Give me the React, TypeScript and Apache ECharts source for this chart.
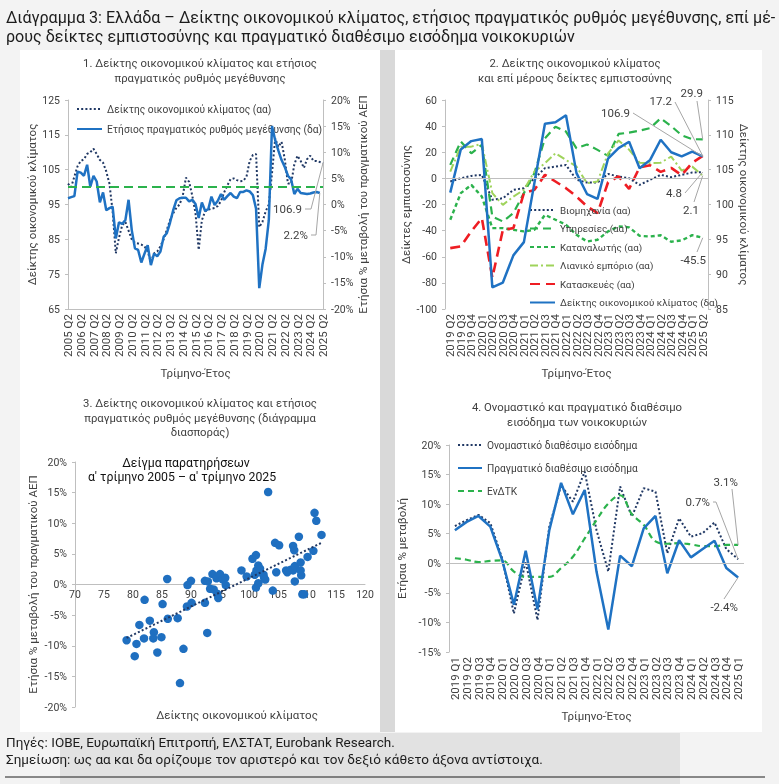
import React, { useEffect, useRef } from "react";
import * as echarts from "echarts";

const FONT = "Roboto, 'Noto Sans', sans-serif";
const TXT = "#404040";
const AXIS = "#bfbfbf";
const NAVY = "#203864";
const BLUE = "#1f72c3";
const GREEN = "#2bb24c";
const LGREEN = "#9fd35b";
const RED = "#ee1d23";
const LEADER = "#a6a6a6";

function quarters(startYear: number, startQ: number, count: number): string[] {
  const out: string[] = [];
  let y = startYear;
  let q = startQ;
  for (let i = 0; i < count; i++) {
    out.push(`${y} Q${q}`);
    q++;
    if (q > 4) { q = 1; y++; }
  }
  return out;
}

// ---------- Panel 1 ----------
const p1Quarters = quarters(2005, 2, 81);
const p1Esi = [
  101, 100, 103, 106, 107.5, 108, 109.5, 110, 111, 109.5,
  107.8, 107, 104.5, 101, 93, 81, 85.5, 89, 90, 87.5,
  85, 84, 83.8, 83.5, 83, 81.5, 78.5, 81, 81.5, 83,
  85, 87.7, 90.5, 92.5, 94, 95, 97.5, 102.7, 101.5, 97.5,
  92.5, 82, 90.5, 93, 93.5, 93.8, 94, 94.6, 96, 98.5,
  100.5, 102.3, 102.5, 102, 101.7, 101.8, 103, 107.5, 109.2, 109.5,
  88.5, 90, 93, 95, 104, 114, 111.5, 113, 108, 101,
  101, 106.5, 109, 107.5, 105.5, 108, 109, 107.5, 107.5, 107.2, 106.9,
];
const p1Gdp = [
  1.2, 1.4, 1.6, 6.3, 6.1, 5.5, 7.6, 3.4, 5.5, 4.4,
  0.4, 2.3, -1.1, -0.7, -0.4, -6.5, -3.4, -3.7, -3.0, 0.9,
  -4.9, -8.4, -8.7, -11.1, -9.4, -7.8, -11.6, -9.4, -9.9, -9.0,
  -6.2, -5.5, -3.5, -1.1, 0.8, 1.2, 1.3, 1.3, 0.6, 0.9,
  0.1, -2.6, 0.4, -1.2, -0.9, 1.5, -0.1, 0.7, 2.0, 0.9,
  1.6, 2.2, 1.5, 1.2, 2.4, 2.4, 2.7, 2.5, 1.8, -0.8,
  -16.0, -11.5, -8.5, -3.0, 15.0, 12.3, 10.3, 8.5, 7.2, 5.5,
  4.8, 2.0, 3.0, 2.2, 2.1, 2.0, 2.1, 2.3, 2.4, 2.2,
];
const p1Average = 100;

// ---------- Panel 2 ----------
const p2Quarters = quarters(2019, 2, 25);
const p2Industry = [-2.4, 0.1, 1.9, 2.7, -16.4, -15.2, -8.8, -7.5, 0, 7.8, 9, 10.3, -1.1, -3.2, -3.2, 3.4, 1.4, 0.1, -5, -1.1, 2.7, 0.9, 2.7, 4.5, 4.8];
const p2Services = [10.3, 28.2, 19.2, 25.6, -29.2, -33, -26.6, -11.3, 4, 30.7, 39.6, 35.8, 23, 26, 21.8, 17.2, 34, 35, 36.5, 38.5, 46, 40, 33, 30, 29.9];
const p2Consumer = [-31.7, -11.3, -5, -13.9, -38.1, -38.1, -39.4, -40.6, -39.4, -27.9, -31.7, -35.5, -43.2, -48.3, -47, -40.6, -36.8, -37.5, -44, -44.5, -43.5, -48.5, -47.5, -43.5, -45.5];
const p2Retail = [5.2, 24.3, 24.3, 26.4, -11.3, -20.3, -13.9, -8.8, 5.2, 11.6, 19.2, 14.1, 9, -3.7, -2.4, 19.2, 29, 22, 12, 11.6, 12, 16.7, 6, 9, 2.1];
const p2Construction = [-53.4, -52.1, -40.6, -30.4, -76, -39.4, -38.1, -11.3, -8.8, 2.7, -2.4, -7.5, -13.9, -21.5, -26.6, -3, 1.5, -8, 8.5, 10, 5, 8, 2.5, 12, 17.2];
const p2Esi = [101.7, 107.9, 109.1, 109.4, 88.1, 88.8, 92.7, 94.6, 103.1, 111.6, 111.8, 112.8, 104.5, 101.5, 100.8, 106.6, 108.1, 109, 105.2, 106.4, 109.3, 107.5, 106.9, 107.6, 106.9];

// ---------- Panel 3 ----------
const p3Esi = [
  78.9, 80.6, 80.3, 81.1, 81.9, 82.0, 82.9, 83.6, 83.5, 84.2,
  84.9, 85.1, 85.9, 86.0, 87.7, 88.1, 88.7, 89.3, 89.4, 90.0,
  90.1, 92.4, 92.4, 92.8, 92.9, 93.3, 93.7, 93.9, 94.4, 94.5,
  94.7, 95.0, 95.5, 95.9, 96.0, 98.7, 99.6, 100.6, 101.0, 101.2,
  101.3, 101.6, 101.8, 101.2, 101.6, 101.9, 102.5, 102.6, 102.8, 103.3,
  104.1, 104.5, 105.2, 104.7, 106.4, 106.6, 107.2, 107.6, 107.8, 107.6,
  107.9, 107.9, 108.6, 108.9, 108.9, 109.0, 109.2, 109.5, 110.1, 111.1,
  111.3, 111.6, 112.5,
];
const p3Gdp = [
  -9.1, -9.7, -11.7, -6.6, -8.8, -2.5, -5.9, -7.8, -8.8, -11.1,
  -8.6, -3.2, 0.9, -5.6, -5.5, -16.1, -10.5, -3.6, -0.1, 0.6,
  -3.0, 0.6, -3.0, -7.9, 0.5, -0.7, 1.7, -0.8, 1.0, -1.5,
  -2.2, 1.7, 0.8, 1.1, -0.1, 2.3, 1.3, 4.2, 1.6, 4.8,
  2.3, 3.1, 2.0, -0.5, 0.2, 2.6, 1.6, 1.1, 0.8, 15.1,
  -1.0, 6.8, 6.4, 2.0, 2.3, 2.0, 2.4, 6.3, 5.6, 2.3,
  0.5, 3.0, 7.8, 3.6, 2.3, 1.5, -1.6, -1.6, 4.5, 5.5,
  11.7, 10.4, 8.1,
];
const p3YMin = -20;
const p3YMax = 20;

// ---------- Panel 4 ----------
const p4Quarters = quarters(2019, 1, 25);
const p4Nominal = [6.3, 7.3, 8.2, 6.8, 0.85, -8.5, 0.3, -9.6, 6.2, 13.2, 10.4, 15.5, 5.6, -1.4, 13.0, 7.9, 12.7, 12.1, 1.7, 7.6, 4.5, 5.1, 6.9, 2.4, 0.7];
const p4Real = [5.6, 7.0, 8.0, 6.2, 0.6, -7.0, 2.1, -7.8, 5.6, 13.6, 8.3, 12.4, -1.4, -11.2, 1.3, -0.5, 5.9, 8.0, -1.7, 3.9, 1.0, 2.4, 3.8, -0.8, -2.4];
const p4Hicp = [0.85, 0.6, 0.2, 0.4, 0.5, -1.4, -2.3, -2.3, -2.3, -0.8, 1.1, 4.2, 7.3, 10.1, 11.5, 8.3, 6.5, 3.7, 3.3, 3.4, 3.2, 2.9, 2.9, 3.1, 3.1];

// names
const N1a = "Δείκτης οικονομικού κλίματος (αα)";
const N1b = "Ετήσιος πραγματικός ρυθμός μεγέθυνσης (δα)";
const N2 = ["Βιομηχανία (αα)", "Υπηρεσίες (αα)", "Καταναλωτής (αα)", "Λιανικό εμπόριο (αα)", "Κατασκευές (αα)", "Δείκτης οικονομικού κλίματος (δα)"];
const N4 = ["Ονομαστικό διαθέσιμο εισόδημα", "Πραγματικό διαθέσιμο εισόδημα", "ΕνΔΤΚ"];

const last = (a: number[]) => a[a.length - 1];
const pct = (v: number) => `${v}%`;

function trendLine(xs: number[], ys: number[]): number[][] {
  const n = Math.min(xs.length, ys.length);
  let mx = 0, my = 0;
  for (let i = 0; i < n; i++) { mx += xs[i]; my += ys[i]; }
  mx /= n; my /= n;
  let sxy = 0, sxx = 0;
  for (let i = 0; i < n; i++) { sxy += (xs[i] - mx) * (ys[i] - my); sxx += (xs[i] - mx) ** 2; }
  const b = sxy / sxx;
  const x0 = Math.min(...xs), x1 = Math.max(...xs);
  return [[x0, my + b * (x0 - mx)], [x1, my + b * (x1 - mx)]];
}

// grid geometry
const G3 = { left: 75, top: 462, width: 290, height: 245 };
// offset that moves panel 3's x axis from the grid bottom up to the y = 0 level
const p3AxisOffset = -G3.height * (0 - p3YMin) / (p3YMax - p3YMin);

const axisLbl = { color: TXT, fontSize: 10.5, fontFamily: FONT };
const xLbl = { color: TXT, fontSize: 11.5, fontFamily: FONT, rotate: 90, margin: 5 };
const nameStyle = { color: TXT, fontSize: 11.5, fontFamily: FONT };
const legendText = { color: TXT, fontSize: 10.2, fontFamily: FONT };
const yBase = {
  type: "value" as const,
  axisLine: { show: true, lineStyle: { color: AXIS } },
  axisTick: { show: true, length: 3, lineStyle: { color: AXIS } },
  splitLine: { show: false },
  nameLocation: "middle" as const,
  nameTextStyle: nameStyle,
};
const xCatBase = {
  type: "category" as const,
  axisTick: { show: false },
  splitLine: { show: false },
  nameLocation: "middle" as const,
  nameTextStyle: nameStyle,
};
const zeroLine = {
  silent: true,
  symbol: "none",
  label: { show: false },
  lineStyle: { color: "#bfbfbf", type: "solid", width: 1 },
  data: [{ yAxis: 0 }],
};

function txt(text: string, x: number, y: number, size: number, align: string, color = TXT, weight: any = "normal") {
  return {
    type: "text", x, y, z: 10,
    style: { text, fill: color, fontSize: size, fontFamily: FONT, fontWeight: weight, align, textAlign: align, verticalAlign: "middle", textVerticalAlign: "middle" },
  };
}

const PT = 11.3;
const baseGraphic: any[] = [
  { type: "rect", shape: { x: 0, y: 0, width: 779, height: 784 }, style: { fill: "#f3f3f3" }, z: -10 },
  { type: "rect", shape: { x: 60, y: 733, width: 620, height: 51 }, style: { fill: "#e2e2e2" }, z: -9 },
  { type: "rect", shape: { x: 20, y: 50, width: 360, height: 682 }, style: { fill: "#ffffff" }, z: -8 },
  { type: "rect", shape: { x: 395, y: 50, width: 367, height: 682 }, style: { fill: "#ffffff" }, z: -8 },
  { type: "rect", shape: { x: 380, y: 50, width: 15, height: 682 }, style: { fill: "#d9d9d9" }, z: -8 },
  txt("Διάγραμμα 3: Ελλάδα – Δείκτης οικονομικού κλίματος, ετήσιος πραγματικός ρυθμός μεγέθυνσης, επί μέ-", 6, 17, 16.1, "left", "#1c1c1c"),
  txt("ρους δείκτες εμπιστοσύνης και πραγματικό διαθέσιμο εισόδημα νοικοκυριών", 6, 36, 16.1, "left", "#1c1c1c"),
  txt("1. Δείκτης οικονομικού κλίματος και ετήσιος", 200, 63, PT, "center"),
  txt("πραγματικός ρυθμός μεγέθυνσης", 200, 78, PT, "center"),
  txt("2. Δείκτης οικονομικού κλίματος", 575, 63, PT, "center"),
  txt("και επί μέρους δείκτες εμπιστοσύνης", 575, 78, PT, "center"),
  txt("3. Δείκτης οικονομικού κλίματος και ετήσιος", 200, 403, PT, "center"),
  txt("πραγματικός ρυθμός μεγέθυνσης (διάγραμμα", 200, 418, PT, "center"),
  txt("διασποράς)", 200, 432, PT, "center"),
  txt("4. Ονομαστικό και πραγματικό διαθέσιμο", 577, 407, PT, "center"),
  txt("εισόδημα των νοικοκυριών", 577, 422, PT, "center"),
  txt("Δείγμα παρατηρήσεων", 186, 463, 12.3, "center", "#111111"),
  txt("α' τρίμηνο 2005 – α' τρίμηνο 2025", 182, 477, 12.3, "center", "#111111"),
  txt("Δείκτης οικονομικού κλίματος", 237, 715, 11.5, "center"),
  txt("Πηγές: ΙΟΒΕ, Ευρωπαϊκή Επιτροπή, ΕΛΣΤΑΤ, Eurobank Research.", 6, 742, 13.5, "left", "#1c1c1c"),
  txt("Σημείωση: ως αα και δα ορίζουμε τον αριστερό και τον δεξιό κάθετο άξονα αντίστοιχα.", 6, 759, 13.5, "left", "#1c1c1c"),
  { type: "line", shape: { x1: 5, y1: 777, x2: 765, y2: 777 }, style: { stroke: "#1c1c1c", lineWidth: 1 }, z: 10 },
];

const legendCommon = {
  orient: "vertical",
  itemHeight: 10,
  textStyle: legendText,
  itemStyle: { opacity: 0 },
};

const option: any = {
  animation: false,
  textStyle: { fontFamily: FONT },
  grid: [
    { left: 68, top: 100, width: 255, height: 209, containLabel: false, outerBoundsMode: "none" },
    { left: 445, top: 100, width: 263, height: 209, containLabel: false, outerBoundsMode: "none" },
    { ...G3, containLabel: false, outerBoundsMode: "none" },
    { left: 449, top: 445, width: 295, height: 207, containLabel: false, outerBoundsMode: "none" },
  ],
  legend: [
    { ...legendCommon, data: [N1a, N1b], left: 71, top: 99, itemWidth: 25, itemGap: 10 },
    { ...legendCommon, data: N2, left: 524, top: 200, itemWidth: 25, itemGap: 8.5, textStyle: { ...legendText, fontSize: 9.8 } },
    { ...legendCommon, data: N4, left: 452, top: 435, itemWidth: 24, itemGap: 13 },
  ],
  xAxis: [
    {
      ...xCatBase, gridIndex: 0, data: p1Quarters, boundaryGap: false,
      axisLine: { show: true, onZero: false, lineStyle: { color: AXIS } },
      axisLabel: { ...xLbl, interval: 3 },
      name: "Τρίμηνο-Έτος", nameGap: 58,
    },
    {
      ...xCatBase, gridIndex: 1, data: p2Quarters, boundaryGap: true,
      axisLine: { show: false, onZero: false },
      axisLabel: { ...xLbl, interval: 0 },
      name: "Τρίμηνο-Έτος", nameGap: 58,
    },
    {
      type: "value", gridIndex: 2, min: 70, max: 120, interval: 5, position: "bottom",
      offset: p3AxisOffset,
      axisLine: { show: true, onZero: false, lineStyle: { color: AXIS } },
      axisTick: { show: false }, splitLine: { show: false },
      axisLabel: { ...axisLbl, margin: 4 },
    },
    {
      ...xCatBase, gridIndex: 3, data: p4Quarters, boundaryGap: true,
      axisLine: { show: false, onZero: false },
      axisLabel: { ...xLbl, interval: 0 },
      name: "Τρίμηνο-Έτος", nameGap: 58,
    },
  ],
  yAxis: [
    { ...yBase, gridIndex: 0, min: 65, max: 125, interval: 10, position: "left", axisLabel: axisLbl, name: "Δείκτης οικονομικού κλίματος", nameGap: 24, nameRotate: 90 },
    { ...yBase, gridIndex: 0, min: -20, max: 20, interval: 5, position: "right", axisLabel: { ...axisLbl, formatter: "{value}%" }, name: "Ετήσια % μεταβολή του πραγματικού ΑΕΠ", nameGap: 34, nameRotate: 90 },
    { ...yBase, gridIndex: 1, min: -100, max: 60, interval: 20, position: "left", axisLabel: axisLbl, name: "Δείκτες εμπιστοσύνης", nameGap: 17, nameRotate: 90 },
    { ...yBase, gridIndex: 1, min: 85, max: 115, interval: 5, position: "right", axisLabel: axisLbl, name: "Δείκτης οικονομικού κλίματος", nameGap: 24, nameRotate: -90 },
    { ...yBase, gridIndex: 2, min: p3YMin, max: p3YMax, interval: 5, position: "left", axisLabel: { ...axisLbl, formatter: "{value}%" }, name: "Ετήσια % μεταβολή του πραγματικού ΑΕΠ", nameGap: 36, nameRotate: 90 },
    { ...yBase, gridIndex: 3, min: -15, max: 20, interval: 5, position: "left", axisLabel: { ...axisLbl, formatter: "{value}%" }, name: "Ετήσια % μεταβολή", nameGap: 41, nameRotate: 90 },
  ],
  series: [
    {
      name: N1a, type: "line", xAxisIndex: 0, yAxisIndex: 0, data: p1Esi, symbol: "none", z: 3,
      lineStyle: { color: NAVY, width: 2, type: [2, 2.2] }, itemStyle: { color: NAVY },
      markLine: { silent: true, symbol: "none", label: { show: false }, lineStyle: { color: GREEN, type: [9, 5], width: 2 }, data: [{ yAxis: p1Average }] },
    },
    {
      name: N1b, type: "line", xAxisIndex: 0, yAxisIndex: 1, data: p1Gdp, symbol: "none", z: 4,
      lineStyle: { color: BLUE, width: 2.5 }, itemStyle: { color: BLUE },
    },
    {
      name: N2[0], type: "line", xAxisIndex: 1, yAxisIndex: 2, data: p2Industry, symbol: "none",
      lineStyle: { color: NAVY, width: 2, type: [2, 2.2] }, itemStyle: { color: NAVY }, markLine: zeroLine,
    },
    {
      name: N2[1], type: "line", xAxisIndex: 1, yAxisIndex: 2, data: p2Services, symbol: "none",
      lineStyle: { color: GREEN, width: 2.2, type: [8, 5] }, itemStyle: { color: GREEN },
    },
    {
      name: N2[2], type: "line", xAxisIndex: 1, yAxisIndex: 2, data: p2Consumer, symbol: "none",
      lineStyle: { color: GREEN, width: 2.4, type: [4, 3] }, itemStyle: { color: GREEN },
    },
    {
      name: N2[3], type: "line", xAxisIndex: 1, yAxisIndex: 2, data: p2Retail, symbol: "none",
      lineStyle: { color: LGREEN, width: 2, type: [8, 3, 2, 3] }, itemStyle: { color: LGREEN },
    },
    {
      name: N2[4], type: "line", xAxisIndex: 1, yAxisIndex: 2, data: p2Construction, symbol: "none",
      lineStyle: { color: RED, width: 2.6, type: [10, 6] }, itemStyle: { color: RED },
    },
    {
      name: N2[5], type: "line", xAxisIndex: 1, yAxisIndex: 3, data: p2Esi, symbol: "none", z: 4,
      lineStyle: { color: BLUE, width: 2.5 }, itemStyle: { color: BLUE },
    },
    {
      name: "scatter", type: "scatter", xAxisIndex: 2, yAxisIndex: 4, symbolSize: 8.5,
      data: p3Esi.map((x, i) => [x, p3Gdp[i]]), itemStyle: { color: "#1f6fc0", opacity: 1 },
    },
    {
      name: "trend", type: "line", xAxisIndex: 2, yAxisIndex: 4, symbol: "none", z: 4,
      data: trendLine(p3Esi, p3Gdp), lineStyle: { color: NAVY, width: 2, type: [2, 2.2] },
    },
    {
      name: N4[0], type: "line", xAxisIndex: 3, yAxisIndex: 5, data: p4Nominal, symbol: "none",
      lineStyle: { color: NAVY, width: 2, type: [2, 2.2] }, itemStyle: { color: NAVY }, markLine: zeroLine,
    },
    {
      name: N4[1], type: "line", xAxisIndex: 3, yAxisIndex: 5, data: p4Real, symbol: "none", z: 4,
      lineStyle: { color: BLUE, width: 2.5 }, itemStyle: { color: BLUE },
    },
    {
      name: N4[2], type: "line", xAxisIndex: 3, yAxisIndex: 5, data: p4Hicp, symbol: "none", smooth: 0.4,
      lineStyle: { color: GREEN, width: 2.2, type: [6, 4] }, itemStyle: { color: GREEN },
    },
  ],
};

function annotations(chart: any): any[] {
  const px = (xi: number, yi: number, x: number, y: number): number[] =>
    chart.convertToPixel({ xAxisIndex: xi, yAxisIndex: yi }, [x, y]) as number[];
  const out: any[] = [];
  const add = (text: string, tx: number, ty: number, via: number[][], target: number[]) => {
    out.push(txt(text, tx, ty, 11.5, "right"));
    out.push({ type: "polyline", z: 9, shape: { points: [...via, target] }, style: { stroke: LEADER, lineWidth: 1, fill: null } });
  };
  // panel 1
  add(String(last(p1Esi)), 302, 209, [[305, 209], [311, 209]], px(0, 0, p1Esi.length - 1, last(p1Esi)));
  add(pct(last(p1Gdp)), 308, 235, [[311, 235], [316, 235]], px(0, 1, p1Gdp.length - 1, last(p1Gdp)));
  // panel 2
  const i2 = p2Esi.length - 1;
  add(String(last(p2Esi)), 630, 113, [[633, 113]], px(1, 3, i2, last(p2Esi)));
  add(String(last(p2Construction)), 672, 101, [[675, 102]], px(1, 2, i2, last(p2Construction)));
  add(String(last(p2Services)), 703, 93, [[697, 101]], px(1, 2, i2, last(p2Services)));
  add(String(last(p2Industry)), 682, 193, [[685, 193]], px(1, 2, i2, last(p2Industry)));
  add(String(last(p2Retail)), 699, 210, [[694, 202]], px(1, 2, i2, last(p2Retail)));
  add(String(last(p2Consumer)), 706, 260, [[697, 252]], px(1, 2, i2, last(p2Consumer)));
  // panel 4
  const i4 = p4Real.length - 1;
  add(pct(last(p4Hicp)), 738, 482, [[732, 489]], px(3, 5, i4, last(p4Hicp)));
  add(pct(last(p4Nominal)), 710, 502, [[713, 502], [716, 502]], px(3, 5, i4, last(p4Nominal)));
  add(pct(last(p4Real)), 738, 607, [[724, 599]], px(3, 5, i4, last(p4Real)));
  return out;
}

export default function App() {
  const ref = useRef<HTMLDivElement>(null);
  useEffect(() => {
    if (!ref.current) return;
    const chart = echarts.init(ref.current, undefined, { renderer: "svg" });
    chart.setOption({ ...option, graphic: baseGraphic });
    const extra = annotations(chart);
    chart.setOption({ graphic: [...baseGraphic, ...extra] }, { replaceMerge: ["graphic"] } as any);
    return () => chart.dispose();
  }, []);
  return <div ref={ref} style={{ position: "fixed", left: 0, top: 0, width: 779, height: 784 }} />;
}
